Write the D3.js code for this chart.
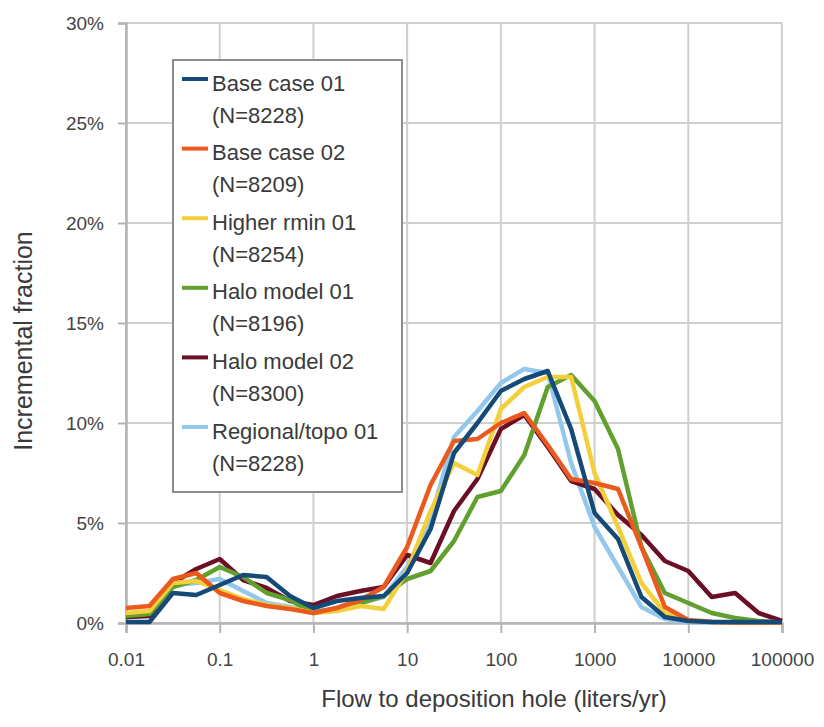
<!DOCTYPE html>
<html>
<head>
<meta charset="utf-8">
<script src="https://cdnjs.cloudflare.com/ajax/libs/d3/7.8.5/d3.min.js"></script>
<style>
  body { margin: 0; background: #fff; }
  svg text { font-family: "Liberation Sans", Arial, sans-serif; fill: #3a3a3a; }
</style>
</head>
<body>
<div id="chart"></div>
<script>
// bins: 4 per decade, 0.01 .. 100000
var binExp = d3.range(0, 29).map(function(k){ return k / 4 - 2; });
var xTicks = [0.01, 0.1, 1, 10, 100, 1000, 10000, 100000];
var yTicks = [0, 0.05, 0.10, 0.15, 0.20, 0.25, 0.30];

var seriesNames = ["Base case 01", "Base case 02", "Higher rmin 01", "Halo model 01", "Halo model 02", "Regional/topo 01"];
var seriesN = ["(N=8228)", "(N=8209)", "(N=8254)", "(N=8196)", "(N=8300)", "(N=8228)"];
var seriesColors = ["#154a78", "#ea5a1f", "#f3cf3b", "#61a02f", "#6a0f26", "#93c8ec"];

// values in percent
var base01 = [0.05,0.05,1.5,1.4,1.9,2.4,2.3,1.35,0.75,1.1,1.25,1.35,2.5,4.7,8.5,10.0,11.6,12.2,12.6,9.7,5.5,4.2,1.3,0.3,0.1,0.05,0.05,0.05,0.05];
var base02 = [0.75,0.85,2.2,2.5,1.5,1.1,0.85,0.7,0.5,0.75,1.15,1.8,3.8,6.9,9.1,9.2,10.0,10.5,8.9,7.2,7.0,6.7,3.8,0.8,0.15,0.05,0.02,0.02,0.02];
var rmin01 = [0.5,0.6,2.0,2.1,1.65,1.2,0.9,0.75,0.5,0.6,0.85,0.7,2.6,5.6,8.0,7.4,10.7,11.8,12.3,12.3,7.5,4.8,2.0,0.5,0.1,0.05,0.02,0.02,0.02];
var halo01 = [0.35,0.45,1.8,2.15,2.8,2.3,1.5,1.15,0.5,0.75,1.0,1.35,2.2,2.6,4.1,6.3,6.6,8.4,11.8,12.4,11.1,8.7,3.8,1.5,1.0,0.5,0.25,0.1,0.02];
var halo02 = [0.3,0.35,2.0,2.7,3.2,2.15,1.75,1.1,0.9,1.35,1.6,1.8,3.4,3.0,5.6,7.2,9.7,10.4,8.8,7.1,6.7,5.4,4.4,3.1,2.6,1.3,1.5,0.5,0.1];
var regional01 = [0.3,0.4,1.9,2.0,2.2,1.6,1.0,0.8,0.6,0.7,1.0,1.3,2.8,5.2,9.3,10.6,12.0,12.7,12.5,8.0,4.8,2.8,0.8,0.2,0.05,0.02,0.02,0.02,0.02];

var allSeries = [base01, base02, rmin01, halo01, halo02, regional01];
// drawing order (bottom first)
var drawOrder = [5, 4, 3, 2, 1, 0];

var W = 824, H = 727;
var margin = {top: 23, right: 42, bottom: 104, left: 126};
var width = W - margin.left - margin.right,
    height = H - margin.top - margin.bottom;

var svg = d3.select("#chart").append("svg")
  .attr("width", W).attr("height", H);
var g = svg.append("g")
  .attr("transform", "translate(" + margin.left + "," + margin.top + ")");

var x = d3.scaleLog().domain([0.01, 100000]).range([0, width]);
var y = d3.scaleLinear().domain([0, 0.30]).range([height, 0]);

// grid
g.append("g").selectAll("line.h").data(yTicks).enter().append("line")
  .attr("x1", 0).attr("x2", width)
  .attr("y1", function(d){ return y(d); }).attr("y2", function(d){ return y(d); })
  .attr("stroke", "#cfcfcf").attr("stroke-width", 2);
g.append("g").selectAll("line.v").data(xTicks).enter().append("line")
  .attr("x1", function(d){ return x(d); }).attr("x2", function(d){ return x(d); })
  .attr("y1", 0).attr("y2", height)
  .attr("stroke", "#cfcfcf").attr("stroke-width", 2);

// axes
var xAxis = g.append("g").attr("transform", "translate(0," + height + ")")
  .call(d3.axisBottom(x).tickValues(xTicks).tickSize(10).tickPadding(20)
    .tickFormat(function(d){ return String(d); }));
var yAxis = g.append("g")
  .call(d3.axisLeft(y).tickValues(yTicks).tickSize(8).tickPadding(14)
    .tickFormat(d3.format(".0%")));
[xAxis, yAxis].forEach(function(a){
  a.select(".domain").attr("stroke", "#b4b4b4").attr("stroke-width", 2.5);
  a.selectAll(".tick line").attr("stroke", "#b4b4b4").attr("stroke-width", 2);
  a.selectAll(".tick text").attr("font-size", 19).style("fill", "#444");
});

// lines
var line = d3.line()
  .x(function(d, i){ return x(Math.pow(10, binExp[i])); })
  .y(function(d){ return y(d / 100); });

drawOrder.forEach(function(s){
  g.append("path").datum(allSeries[s])
    .attr("d", line)
    .attr("fill", "none")
    .attr("stroke", seriesColors[s])
    .attr("stroke-width", 4.5)
    .attr("stroke-linejoin", "round");
});

// axis titles
svg.append("text")
  .attr("x", 494).attr("y", 698)
  .attr("text-anchor", "middle").attr("dominant-baseline", "central")
  .attr("font-size", 24)
  .text("Flow to deposition hole (liters/yr)");
svg.append("text")
  .attr("transform", "translate(23,341) rotate(-90)")
  .attr("text-anchor", "middle").attr("dominant-baseline", "central")
  .attr("font-size", 25)
  .text("Incremental fraction");

// legend
var leg = svg.append("g");
leg.append("rect")
  .attr("x", 173).attr("y", 60).attr("width", 229).attr("height", 432)
  .attr("fill", "#fff").attr("stroke", "#8c8c8c").attr("stroke-width", 2);
seriesNames.forEach(function(name, i){
  var y0 = 83 + 69.6 * i;
  leg.append("line")
    .attr("x1", 182).attr("x2", 208).attr("y1", y0 - 4).attr("y2", y0 - 4)
    .attr("stroke", seriesColors[i]).attr("stroke-width", 4);
  leg.append("text").attr("x", 212).attr("y", y0)
    .attr("dominant-baseline", "central").attr("font-size", 22)
    .text(name);
  leg.append("text").attr("x", 212).attr("y", y0 + 32)
    .attr("dominant-baseline", "central").attr("font-size", 22)
    .text(seriesN[i]);
});
</script>
</body>
</html>
